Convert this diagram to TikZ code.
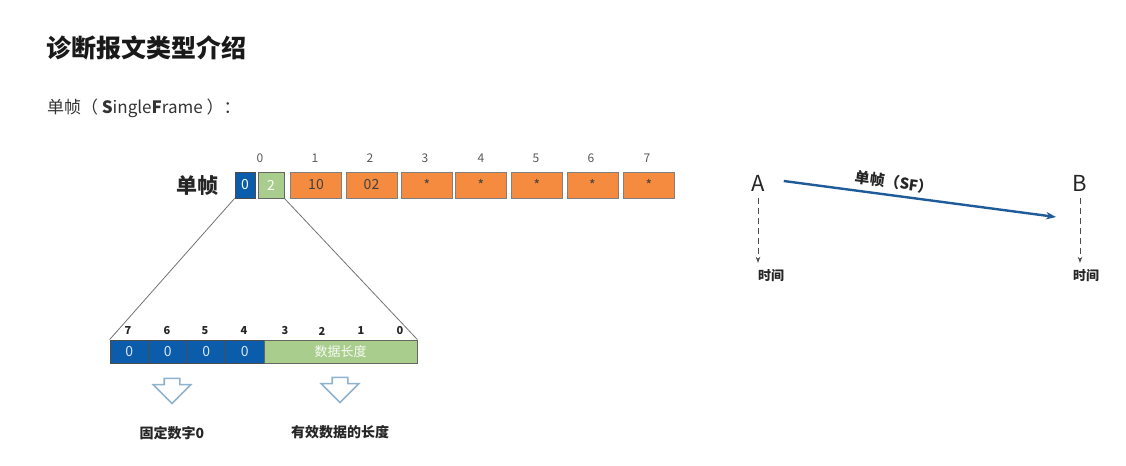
\documentclass[tikz,border=0pt]{standalone}
\usepackage{fontspec}
\setmainfont{Noto Sans CJK SC}
\usepackage{xcolor}
\usetikzlibrary{shapes.arrows, arrows.meta, positioning}

\definecolor{sfblue}{HTML}{0B5CAB}
\definecolor{sfgreen}{HTML}{A9CD8C}
\definecolor{sforange}{HTML}{F58B3F}
\definecolor{sfarrow}{HTML}{1F5B99}
\definecolor{sfhollow}{HTML}{8FB3CC}
\definecolor{sftext}{HTML}{333333}

\begin{document}
\begin{tikzpicture}[x=0.5pt, y=-0.5pt, font=\fontsize{7}{8}\selectfont]

    % Define style for different elements
    \tikzstyle{bluecell} = [rectangle, minimum width=10pt, minimum height=13pt, inner sep=0pt, draw=black!70, fill=sfblue, text=white]
    \tikzstyle{greencell} = [rectangle, minimum width=13pt, minimum height=13pt, inner sep=0pt, draw=black!60, fill=sfgreen, text=white]
    \tikzstyle{bytecell} = [rectangle, minimum width=25.5pt, minimum height=13pt, inner sep=0pt, draw=black!50, fill=sforange, text=black!75]
    \tikzstyle{bitcell} = [rectangle, minimum width=19.25pt, minimum height=11.5pt, inner sep=0pt, draw=black!70, fill=sfblue, text=white!85!sfblue]
    \tikzstyle{index} = [text=black!65, font=\fontsize{6}{7}\selectfont]
    \tikzstyle{bitindex} = [text=black!85, font=\bfseries\fontsize{5.5}{6}\selectfont]
    \tikzstyle{hollow} = [single arrow, draw=sfhollow, fill=white, thick, shape border rotate=270, minimum height=12.5pt, minimum width=18pt, inner sep=3.5pt, single arrow head extend=5.5pt]
    \tikzstyle{note} = [text=black!85, font=\bfseries\fontsize{7}{8}\selectfont]
    \tikzstyle{zoomline} = [draw=black!55, thin]
    \tikzstyle{timeline} = [draw=black!70, densely dashed, -{Stealth[length=3pt]}]
    \tikzstyle{arrow} = [draw=sfarrow, very thick, -{Stealth[length=5pt]}]

    \useasboundingbox (0,0) rectangle (1126,466);

    % Titles
    \node (title) [anchor=west, text=black!90, font=\bfseries\fontsize{12.5}{14}\selectfont] at (39,48) {诊断报文类型介绍};
    \node (subtitle) [anchor=west, text=sftext, font=\fontsize{8.5}{10}\selectfont] at (40,108) {单帧（ \textbf{S}ingle\textbf{F}rame ）：};

    % Place nodes: single frame bytes
    \node (frame) [text=black!85, font=\bfseries\fontsize{10.5}{12}\selectfont] at (197,186) {单帧};
    \node (b0hi) [bluecell] at (245,185) {0};
    \node (b0lo) [greencell] at (271,185) {2};
    \node (b1) [bytecell] at (316,185) {10};
    \node (b2) [bytecell] at (371.5,185) {02};
    \node (b3) [bytecell] at (427,185) {*};
    \node (b4) [bytecell] at (481,185) {*};
    \node (b5) [bytecell] at (537,185) {*};
    \node (b6) [bytecell] at (592.5,185) {*};
    \node (b7) [bytecell] at (649,185) {*};

    \node (i0) [index] at (260,158) {0};
    \node (i1) [index] at (315,158) {1};
    \node (i2) [index] at (370,158) {2};
    \node (i3) [index] at (425,158) {3};
    \node (i4) [index] at (481,158) {4};
    \node (i5) [index] at (536,158) {5};
    \node (i6) [index] at (591,158) {6};
    \node (i7) [index] at (647,158) {7};

    % Place nodes: first byte bits
    \node (c7) [bitcell] at (129.25,351.5) {0};
    \node (c6) [bitcell] at (167.75,351.5) {0};
    \node (c5) [bitcell] at (206.25,351.5) {0};
    \node (c4) [bitcell] at (244.75,351.5) {0};
    \node (len) [greencell, minimum width=76.5pt, minimum height=11.5pt, draw=black!60, text=white!90!sfgreen, font=\fontsize{6.5}{7}\selectfont] at (340.5,351.5) {数据长度};

    \node (t7) [bitindex] at (128,331) {7};
    \node (t6) [bitindex] at (167,331) {6};
    \node (t5) [bitindex] at (205,331) {5};
    \node (t4) [bitindex] at (244,331) {4};
    \node (t3) [bitindex] at (285,331) {3};
    \node (t2) [bitindex] at (322,331) {2};
    \node (t1) [bitindex] at (361,331) {1};
    \node (t0) [bitindex] at (400,331) {0};

    \node (fix) [hollow] at (172,387) {};
    \node (valid) [hollow] at (340,386) {};
    \node (fixnote) [note] at (172,433) {固定数字0};
    \node (validnote) [note] at (340,432) {有效数据的长度};

    % Place nodes: sender and receiver
    \node (A) [text=black!85, font=\fontsize{11}{12}\selectfont] at (758,183) {A};
    \node (B) [text=black!85, font=\fontsize{11}{12}\selectfont] at (1080,183) {B};
    \node (Atime) [note, font=\bfseries\fontsize{6.5}{7}\selectfont] at (771,276) {时间};
    \node (Btime) [note, font=\bfseries\fontsize{6.5}{7}\selectfont] at (1086,276) {时间};
    \coordinate (sfend) at (1056,217);

    % Draw lines and arrows
    \draw [zoomline] (b0hi.south west) -- (c7.north west);
    \draw [zoomline] (b0lo.south east) -- (len.north east);
    \draw [timeline] (A.south) -- (A.south |- Atime.north);
    \draw [timeline] (B.south) -- (B.south |- Btime.north);
    \draw [arrow] ([xshift=6pt, yshift=1pt]A.east) -- node[pos=0.4, sloped, above=-1pt, note, font=\bfseries\fontsize{7.5}{8}\selectfont] {单帧（SF）} (sfend);

\end{tikzpicture}
\end{document}
